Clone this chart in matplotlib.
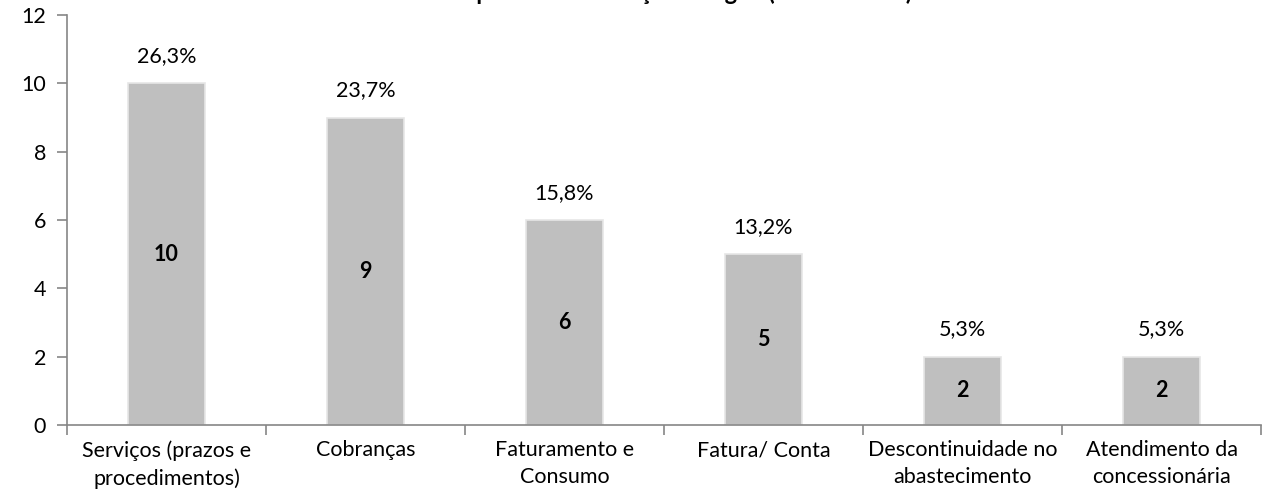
import matplotlib
matplotlib.use("Agg")
from matplotlib import pyplot as plt

categorias = ["Serviços (prazos e\nprocedimentos)", "Cobranças", "Faturamento e\nConsumo",
              "Fatura/ Conta", "Descontinuidade no\nabastecimento", "Atendimento da\nconcessionária"]
quantidades = [10, 9, 6, 5, 2, 2]
percentuais = ["26,3%", "23,7%", "15,8%", "13,2%", "5,3%", "5,3%"]

plt.rcParams['font.family'] = ['Lato', 'DejaVu Sans']

fig = plt.figure(figsize=(12.66, 4.97), dpi=100)
ax = fig.add_axes([67 / 1266, 72 / 497, 1194 / 1266, 410 / 497])

x = range(len(categorias))
ax.bar(x, quantidades, width=0.39, color="#BFBFBF", edgecolor="#E6E6E6", linewidth=1.2, zorder=2)

for i, (q, p) in enumerate(zip(quantidades, percentuais)):
    ax.text(i, q + 0.5, p, ha="center", va="bottom", fontsize=15.5)
    ax.text(i, q / 2, str(q), ha="center", va="center", fontsize=15.5, fontweight="bold")

ax.set_xlim(-0.5, len(categorias) - 0.5)
ax.set_ylim(0, 12)
ax.set_yticks(range(0, 13, 2))
ax.set_xticks(x)
ax.set_xticklabels(categorias, fontsize=15.5, linespacing=1.45)
ax.set_xticks([i - 0.5 for i in range(len(categorias) + 1)], minor=True)
ax.tick_params(axis="x", which="major", length=0, pad=11)
ax.tick_params(axis="x", which="minor", length=7, color="#868686", width=1.2)
ax.tick_params(axis="y", length=7, color="#868686", width=1.2, labelsize=15.5, pad=8)

for s in ["top", "right"]:
    ax.spines[s].set_visible(False)
for s in ["left", "bottom"]:
    ax.spines[s].set_color("#868686")
    ax.spines[s].set_linewidth(1.2)

# titulo cortado no topo, como no original
fig.text(0.54, 1.0, "Tipos de Reclamações - Água (Saneamento)", ha="center", va="baseline",
         fontsize=17, fontweight="bold")

fig.savefig("out.png", dpi=100)
